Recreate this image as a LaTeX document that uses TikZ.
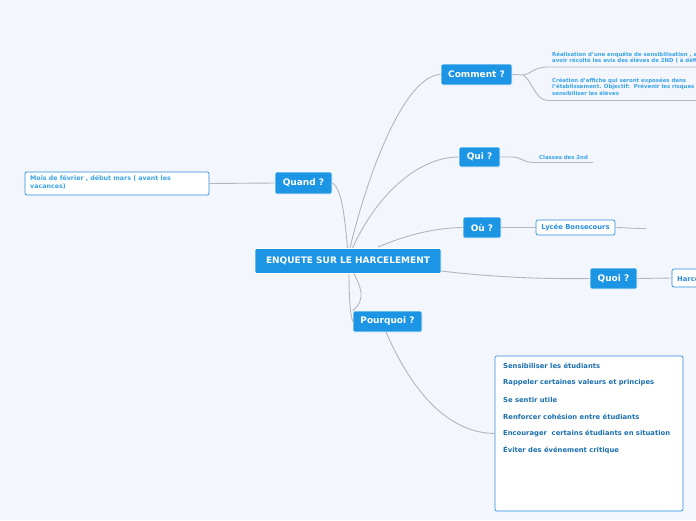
\documentclass[tikz,border=0pt]{standalone}
\usepackage{fontspec}
\setmainfont{DejaVu Sans}
\definecolor{bgc}{HTML}{F3F6FD}
\definecolor{nodeblue}{HTML}{1C95E5}
\definecolor{leafblue}{HTML}{3AA4E6}
\definecolor{boxline}{HTML}{2A8DDF}
\definecolor{deepblue}{HTML}{1B6FAE}
\definecolor{linkgray}{HTML}{B4B6BE}
\tikzset{
  topic/.style={fill=nodeblue, draw=white, line width=0.6pt, rounded corners=1.5pt,
    text=white, font=\bfseries\fontsize{9}{11}\selectfont, inner sep=0pt},
  leafbox/.style={fill=white, draw=boxline, line width=0.7pt, rounded corners=2pt, inner sep=0pt},
  leaftext/.style={text=leafblue, font=\bfseries\fontsize{5.4}{6.6}\selectfont, inner sep=0pt, align=left},
  boxtext/.style={text=deepblue, font=\bfseries\fontsize{6.8}{8}\selectfont, inner sep=0pt, anchor=west},
  link/.style={draw=linkgray, line width=0.9pt}
}
\begin{document}
\begin{tikzpicture}[x=1pt,y=-1pt]
\fill[bgc] (0,0) rectangle (696,520);
\useasboundingbox (0,0) rectangle (696,520);
\clip (0,0) rectangle (696,520);

% main topics
\node[topic, minimum width=186pt, minimum height=25pt] (root) at (348,261) {ENQUETE SUR LE HARCELEMENT};
\node[topic, minimum width=71pt, minimum height=21pt] (comment) at (476.5,74.5) {Comment ?};
\node[topic, minimum width=41pt, minimum height=20pt] (qui) at (479.5,157) {Qui ?};
\node[topic, minimum width=38pt, minimum height=21pt] (ou) at (482,227.5) {Où ?};
\node[topic, minimum width=47pt, minimum height=21pt] (quoi) at (613.5,278.5) {Quoi ?};
\node[topic, minimum width=57pt, minimum height=22pt] (quand) at (303.5,183) {Quand ?};
\node[topic, minimum width=69pt, minimum height=21pt] (pourquoi) at (387.5,321.5) {Pourquoi ?};

% leaf boxes
\node[leafbox, minimum width=184pt, minimum height=23pt] (mois) at (117,183.5) {};
\node[leaftext, font=\bfseries\fontsize{6.3}{8}\selectfont, anchor=north west] (moistext) at (30,175.5)
  {Mois de février , début mars ( avant les\\vacances)};
\node[leafbox, minimum width=79pt, minimum height=15pt, text=boxline,
  font=\bfseries\fontsize{6.8}{8}\selectfont] (lycee) at (575.5,227.5) {Lycée Bonsecours};
\node[leafbox, minimum width=60pt, minimum height=18pt] (harc) at (702,278) {};
\node[text=boxline, font=\bfseries\fontsize{6.8}{8}\selectfont, inner sep=0pt, anchor=west] (harctext) at (677,278.5) {Harcèlement};
\node[leafbox, minimum width=188pt, minimum height=155pt] (why) at (589,433.5) {};
\node[boxtext] (p1) at (503,365.5) {Sensibiliser les étudiants};
\node[boxtext] (p2) at (503,382.5) {Rappeler certaines valeurs et principes};
\node[boxtext] (p3) at (503,399.5) {Se sentir utile};
\node[boxtext] (p4) at (503,416.5) {Renforcer cohésion entre étudiants};
\node[boxtext] (p5) at (503,433.5) {Encourager\ \ certains étudiants en situation};
\node[boxtext] (p6) at (503,450.5) {Éviter des événement critique};

% plain leaf texts
\node[leaftext, anchor=north west] (c1) at (552,51.5)
  {Réalisation d'une enquête de sensibilisation , après\\avoir récolté les avis des élèves de 2ND ( à définir )};
\node[leaftext, anchor=north west] (c2) at (552,77.5)
  {Création d'affiche qui seront exposées dans\\l'établissement. Objectif:\ \ Prévenir les risques et\\sensibiliser les élèves};
\node[leaftext, anchor=west] (classes) at (539,157.5) {Classes des 2nd};

% connectors
\coordinate (rt1) at (350,248);
\coordinate (rt2) at (352.5,248);
\coordinate (rt3) at (378,247);
\coordinate (rt4) at (347.5,248);
\coordinate (rb1) at (354,273.5);
\coordinate (rb2) at (349,273.5);
\coordinate (rr) at (441,271);
\path[link] (rt1) .. controls (368,172) and (405,75) .. (comment.west);
\path[link] (rt2) .. controls (378,192) and (420,157) .. (qui.west);
\path[link] (rt3) .. controls (402,237) and (430,228) .. (ou.west);
\path[link] (rt4) .. controls (345,220) and (342,188) .. (quand.east);
\path[link] (rr) .. controls (500,278) and (550,279) .. (quoi.west);
\path[link] (rb1) .. controls (360,286) and (367,299) .. (pourquoi.north west);
\coordinate (pw) at (353,322);
\path[link] (rb2) .. controls (349,295) and (350,315) .. (pw);
\coordinate (pb) at (386,332);
\path[link] (pb) .. controls (420,410) and (460,433) .. (why.west);
\path[link] (quand.west) -- (mois.east);

% comment branches
\coordinate (cj) at (523,75);
\coordinate (c1u) at (548,67);
\coordinate (c2u) at (548,100.5);
\coordinate (edge1) at (700,67);
\coordinate (edge2) at (700,100.5);
\path[link] (comment.east) -- (cj);
\path[link] (cj) .. controls (530,75) and (533,67) .. (c1u) -- (edge1);
\path[link] (cj) .. controls (532,80) and (535,100.5) .. (c2u) -- (edge2);

% qui branch
\coordinate (qj) at (512,157);
\coordinate (qu1) at (535,162.5);
\coordinate (qu2) at (593,162.5);
\path[link] (qui.east) -- (qj) .. controls (522,157) and (522,162.5) .. (qu1) -- (qu2);

% ou branch
\coordinate (tail) at (646,228.5);
\path[link] (ou.east) -- (lycee.west);
\path[link] (lycee.east) .. controls (625,227.5) and (630,228.5) .. (tail);

% quoi branch
\path[link] (quoi.east) -- (harc.west);
\end{tikzpicture}
\end{document}
